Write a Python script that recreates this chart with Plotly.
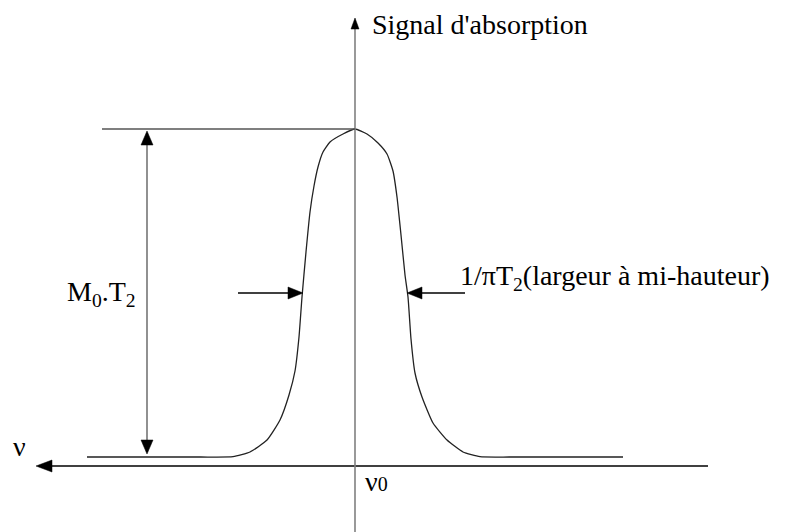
import plotly.graph_objects as go

# Absorption line: offset from nu0 (horizontal units) and signal height (vertical units)
nu_offset = [-268, -155, -122, -105, -88, -75, -66, -60, -56, -53, -49, -45, -41, -37, -32, -25, -12, 0,
             12, 23, 32, 38, 42, 46, 50, 53, 56, 60, 67, 78, 92, 108, 125, 155, 268]
signal = [0, 0, 0.3, 5, 17, 37, 62, 86, 120, 160, 205, 245, 271, 290, 305, 315, 323, 328,
          323, 314, 303, 286, 260, 222, 182, 160, 118, 84, 60, 34, 17, 5, 0.3, 0, 0]

peak_height = 328          # M0.T2
half_height = 164
half_width = 52            # 1/(2*pi*T2) on each side of nu0

# Axes extents
nu_axis_y = -9
nu_axis_span = [353, -319]     # right end -> arrow tip (nu increases to the left)
signal_axis_span = [-75, 439]
peak_line_x = [-253, 0]
height_arrow_x = -208
fwhm_arrow_start = [-117, 110]

X_RANGE = [-355, 449]
Y_RANGE = [-75, 457]

# Labels: anchor point (left edge, vertical middle) in data units, text
label_x = [15, -290, 103, -344, 8]
label_y = [433, 163, 180, 11, -24]
label_text = ["Signal d'absorption", "M<sub>0</sub>.T<sub>2</sub>",
              "1/πT<sub>2</sub>(largeur à mi-hauteur)", "ν",
              "ν<span style='font-size:20px'>0</span>"]

SERIF = "Liberation Serif"
LABEL_SIZE = 28


def head(tip_x, tip_y, dx, dy, length=15, width=12):
    """Filled triangular arrow head whose tip is at (tip_x, tip_y), pointing along (dx, dy)."""
    n = (dx * dx + dy * dy) ** 0.5
    ux, uy = dx / n, dy / n
    bx, by = tip_x - ux * length, tip_y - uy * length
    px, py = -uy * width / 2, ux * width / 2
    return dict(type="path", xref="x", yref="y",
                path=f"M{tip_x},{tip_y} L{bx + px},{by + py} L{bx - px},{by - py} Z",
                fillcolor="black", line=dict(color="black", width=0.5), layer="above")


def seg(x0, y0, x1, y1, color="black", width=1.5):
    return dict(type="line", xref="x", yref="y", x0=x0, y0=y0, x1=x1, y1=y1,
                line=dict(color=color, width=width), layer="above")


shapes = [
    # frequency axis (pointing left)
    seg(nu_axis_span[0], nu_axis_y, nu_axis_span[1] + 8, nu_axis_y, "black", 1.5),
    head(nu_axis_span[1], nu_axis_y, -1, 0, length=16, width=12),
    # signal axis
    seg(0, signal_axis_span[0], 0, signal_axis_span[1] - 6, "#808080", 1.6),
    head(0, signal_axis_span[1], 0, 1, length=11, width=8),
    # peak reference line
    seg(peak_line_x[0], peak_height, peak_line_x[1], peak_height, "#555555", 1.3),
    # double arrow for the peak height
    seg(height_arrow_x, 8, height_arrow_x, peak_height - 8, "#555555", 1.3),
    head(height_arrow_x, peak_height - 2, 0, 1, length=14, width=12),
    head(height_arrow_x, 3, 0, -1, length=14, width=12),
    # arrows marking the width at half height
    seg(fwhm_arrow_start[0], half_height, -half_width - 8, half_height, "black", 1.6),
    head(-half_width, half_height, 1, 0, length=15, width=12),
    seg(fwhm_arrow_start[1], half_height, half_width + 8, half_height, "black", 1.6),
    head(half_width, half_height, -1, 0, length=15, width=12),
]

fig = go.Figure()
fig.add_trace(go.Scatter(
    x=nu_offset, y=signal, mode="lines",
    line=dict(color="#222222", width=1.3, shape="spline", smoothing=0.5),
    hoverinfo="skip", showlegend=False,
))

# Labels placed in paper fractions of the same frame (the plot area fills the whole figure)
for x, y, text in zip(label_x, label_y, label_text):
    fig.add_annotation(
        x=(x - X_RANGE[0]) / (X_RANGE[1] - X_RANGE[0]),
        y=(y - Y_RANGE[0]) / (Y_RANGE[1] - Y_RANGE[0]),
        xref="paper", yref="paper", xanchor="left", yanchor="middle",
        showarrow=False, text=text, font=dict(family=SERIF, size=LABEL_SIZE, color="black"),
    )

fig.update_layout(
    width=804, height=532,
    margin=dict(l=0, r=0, t=0, b=0),
    plot_bgcolor="white",
    xaxis=dict(range=X_RANGE, visible=False),
    yaxis=dict(range=Y_RANGE, visible=False),
    shapes=shapes, showlegend=False,
)

fig.write_html("out.html")
